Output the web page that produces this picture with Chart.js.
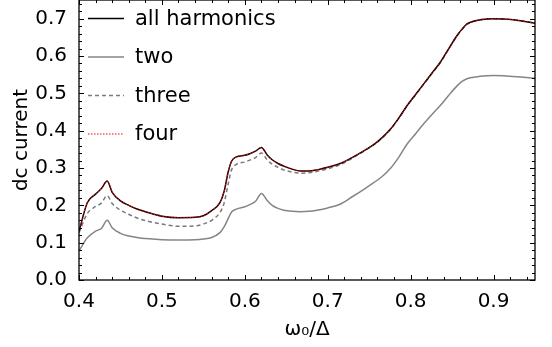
<!DOCTYPE html>
<html>
<head>
<meta charset="utf-8">
<script src="https://cdn.jsdelivr.net/npm/chart.js@4.4.1/dist/chart.umd.min.js"></script>
<style>
  html, body { margin: 0; padding: 0; background: #fff; }
  #wrap { width: 552px; height: 347px; }
</style>
</head>
<body>
<div id="wrap"><canvas id="dcChart"></canvas></div>
<script>
// dc current vs omega0/Delta
const omega = [0.40, 0.41, 0.42, 0.427, 0.434, 0.44, 0.45, 0.46, 0.47, 0.48, 0.50, 0.52, 0.54, 0.55, 0.56,
  0.57, 0.575, 0.58, 0.584, 0.59, 0.60, 0.606, 0.613, 0.62, 0.627, 0.633, 0.64, 0.647, 0.657, 0.667,
  0.677, 0.687, 0.70, 0.715, 0.731, 0.745, 0.755, 0.766, 0.776, 0.786, 0.796, 0.806, 0.816, 0.826,
  0.836, 0.846, 0.856, 0.862, 0.868, 0.876, 0.884, 0.90, 0.912, 0.924, 0.936, 0.95];

const allHarmonics = [0.130, 0.207, 0.230, 0.245, 0.265, 0.235, 0.212, 0.200, 0.190, 0.183, 0.171, 0.167, 0.168, 0.172, 0.186,
  0.207, 0.237, 0.290, 0.318, 0.330, 0.334, 0.338, 0.345, 0.355, 0.335, 0.322, 0.312, 0.305, 0.297, 0.292,
  0.292, 0.295, 0.302, 0.312, 0.330, 0.348, 0.362, 0.382, 0.405, 0.435, 0.468, 0.497, 0.526, 0.555,
  0.584, 0.620, 0.655, 0.672, 0.686, 0.693, 0.697, 0.700, 0.699, 0.697, 0.693, 0.688];

const twoHarmonics = [0.078, 0.113, 0.131, 0.138, 0.160, 0.140, 0.125, 0.118, 0.114, 0.111, 0.108, 0.107, 0.108, 0.110, 0.114,
  0.127, 0.142, 0.165, 0.182, 0.190, 0.196, 0.202, 0.211, 0.232, 0.213, 0.200, 0.192, 0.187, 0.184, 0.183,
  0.184, 0.187, 0.193, 0.203, 0.225, 0.245, 0.260, 0.278, 0.300, 0.330, 0.365, 0.392, 0.419, 0.444,
  0.468, 0.495, 0.520, 0.532, 0.539, 0.543, 0.546, 0.548, 0.547, 0.545, 0.543, 0.540];

const threeHarmonics = [0.127, 0.178, 0.197, 0.206, 0.226, 0.205, 0.187, 0.176, 0.166, 0.159, 0.150, 0.144, 0.145, 0.150, 0.160,
  0.181, 0.206, 0.258, 0.295, 0.310, 0.316, 0.321, 0.328, 0.340, 0.322, 0.310, 0.302, 0.295, 0.289, 0.286,
  0.287, 0.291, 0.298, 0.309, 0.328, 0.347, 0.361, 0.381, 0.404, 0.434, 0.467, 0.496, 0.525, 0.554,
  0.583, 0.619, 0.654, 0.671, 0.685, 0.693, 0.697, 0.700, 0.699, 0.697, 0.693, 0.688];

const fourHarmonics = [0.130, 0.207, 0.230, 0.245, 0.265, 0.235, 0.212, 0.200, 0.190, 0.183, 0.171, 0.167, 0.168, 0.172, 0.186,
  0.207, 0.237, 0.290, 0.318, 0.330, 0.334, 0.338, 0.345, 0.355, 0.335, 0.322, 0.312, 0.305, 0.297, 0.292,
  0.292, 0.295, 0.302, 0.312, 0.330, 0.348, 0.362, 0.382, 0.405, 0.435, 0.468, 0.497, 0.526, 0.555,
  0.584, 0.620, 0.655, 0.672, 0.686, 0.693, 0.697, 0.700, 0.699, 0.697, 0.693, 0.688];

const xTicks = [0.4, 0.5, 0.6, 0.7, 0.8, 0.9];
const yTicks = [0.0, 0.1, 0.2, 0.3, 0.4, 0.5, 0.6, 0.7];
const seriesNames = ['all harmonics', 'two', 'three', 'four'];

const FONT = 'DejaVu Sans';

function pts(ys) {
    return omega.map((x, i) => ({ x: x, y: ys[i] }));
}

// inward ticks on all four sides plus the frame
const frameTicks = {
    id: 'frameTicks',
    afterDatasetsDraw(chart) {
        const { ctx, chartArea: a, scales } = chart;
        const xs = scales.x, ys = scales.y;
        ctx.save();
        ctx.strokeStyle = '#000';
        ctx.lineWidth = 1;
        ctx.beginPath();
        for (let i = 0; i <= 27; i++) {
            const v = 0.4 + i * 0.02;
            const px = Math.round(xs.getPixelForValue(v)) + 0.5;
            const len = (i % 5 === 0) ? 5 : 3;
            ctx.moveTo(px, a.bottom); ctx.lineTo(px, a.bottom - len);
            ctx.moveTo(px, a.top); ctx.lineTo(px, a.top + len);
        }
        for (let i = 0; i <= 37; i++) {
            const v = i * 0.02;
            const py = Math.round(ys.getPixelForValue(v)) + 0.5;
            const len = (i % 5 === 0) ? 5 : 3;
            ctx.moveTo(a.left, py); ctx.lineTo(a.left + len, py);
            ctx.moveTo(a.right, py); ctx.lineTo(a.right - len, py);
        }
        ctx.stroke();
        ctx.lineWidth = 1.3;
        ctx.strokeRect(a.left, a.top, a.right - a.left, a.bottom - a.top);
        ctx.restore();
    }
};

// legend in the upper left of the plot
const insideLegend = {
    id: 'insideLegend',
    afterDraw(chart) {
        const ctx = chart.ctx;
        ctx.save();
        ctx.font = '21px "' + FONT + '"';
        ctx.textBaseline = 'middle';
        ctx.fillStyle = '#000';
        chart.data.datasets.forEach((ds, i) => {
            const y = 18.5 + i * 38.5;
            ctx.beginPath();
            ctx.strokeStyle = ds.borderColor;
            ctx.lineWidth = ds.borderWidth;
            ctx.setLineDash(ds.borderDash || []);
            ctx.moveTo(88, y); ctx.lineTo(124, y);
            ctx.stroke();
            ctx.setLineDash([]);
            ctx.fillText(ds.label, 135, y + 1);
        });
        ctx.restore();
    }
};

new Chart(document.getElementById('dcChart'), {
    type: 'line',
    data: {
        datasets: [{
            label: seriesNames[0],
            data: pts(allHarmonics),
            borderColor: '#000000',
            borderWidth: 1.5,
            order: 1
        }, {
            label: seriesNames[1],
            data: pts(twoHarmonics),
            borderColor: '#858585',
            borderWidth: 1.5,
            order: 3
        }, {
            label: seriesNames[2],
            data: pts(threeHarmonics),
            borderColor: '#7a7a7a',
            borderWidth: 1.5,
            borderDash: [4, 3],
            order: 2
        }, {
            label: seriesNames[3],
            data: pts(fourHarmonics),
            borderColor: '#ff0000',
            borderWidth: 1,
            borderDash: [1.5, 1.5],
            order: 0
        }]
    },
    options: {
        responsive: true,
        maintainAspectRatio: false,
        animation: false,
        layout: { padding: { top: 0, right: 17, bottom: 0, left: 0 } },
        elements: {
            point: { radius: 0 },
            line: { cubicInterpolationMode: 'monotone', fill: false }
        },
        plugins: {
            legend: { display: false },
            tooltip: { enabled: false }
        },
        scales: {
            x: {
                type: 'linear',
                min: 0.4,
                max: 0.95,
                afterBuildTicks: (s) => { s.ticks = xTicks.map(v => ({ value: v })); },
                afterFit: (s) => { s.height = 67; s.paddingLeft = 0; s.paddingRight = 0; },
                grid: { display: false },
                border: { display: false },
                ticks: {
                    color: '#000',
                    font: { family: FONT, size: 20 },
                    padding: 2,
                    maxRotation: 0,
                    callback: (v) => v.toFixed(1)
                },
                title: {
                    display: true,
                    text: 'ω₀/Δ',
                    color: '#000',
                    font: { family: FONT, size: 20 },
                    padding: { top: 0, bottom: 5 }
                }
            },
            y: {
                min: 0,
                max: 0.75,
                afterBuildTicks: (s) => { s.ticks = yTicks.map(v => ({ value: v })); },
                afterFit: (s) => { s.width = 79; s.paddingTop = 0; s.paddingBottom = 0; },
                grid: { display: false },
                border: { display: false },
                ticks: {
                    color: '#000',
                    font: { family: FONT, size: 20 },
                    padding: 4,
                    callback: (v) => v.toFixed(1)
                },
                title: {
                    display: true,
                    text: 'dc current',
                    color: '#000',
                    font: { family: FONT, size: 20 },
                    padding: { top: 10, bottom: 0 }
                }
            }
        }
    },
    plugins: [frameTicks, insideLegend]
});
</script>
</body>
</html>
